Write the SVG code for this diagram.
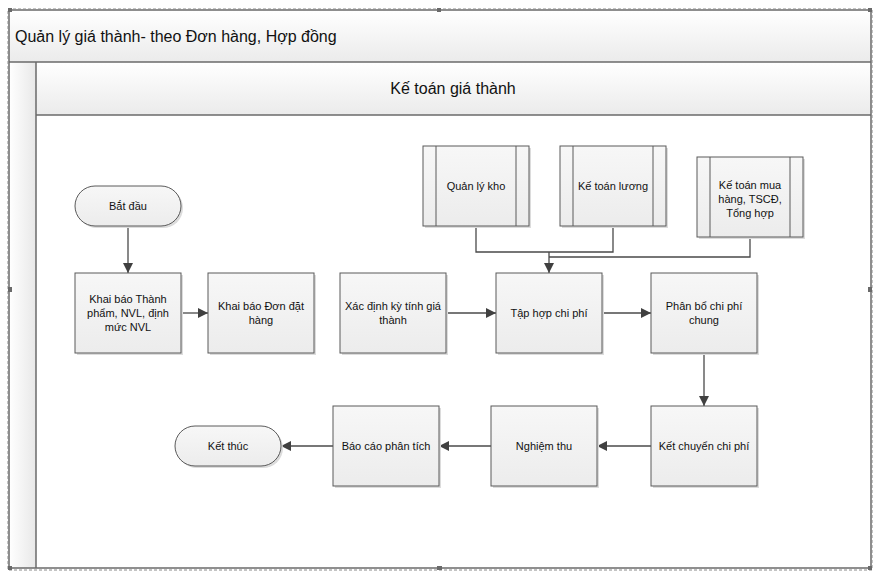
<svg xmlns="http://www.w3.org/2000/svg" width="878" height="576" viewBox="0 0 878 576">
<defs>
<linearGradient id="gBand" x1="0" y1="0" x2="0" y2="1"><stop offset="0" stop-color="#ffffff"/><stop offset="1" stop-color="#ebebeb"/></linearGradient>
<linearGradient id="gStrip" x1="0" y1="0" x2="1" y2="0"><stop offset="0" stop-color="#ffffff"/><stop offset="1" stop-color="#e8e8e8"/></linearGradient>
<linearGradient id="gNode" x1="0" y1="0" x2="0" y2="1"><stop offset="0" stop-color="#f7f7f7"/><stop offset="1" stop-color="#ececec"/></linearGradient>
<marker id="arr" viewBox="0 0 10 10" refX="10" refY="5" markerWidth="10" markerHeight="10" markerUnits="userSpaceOnUse" orient="auto"><path d="M0,0 L10,5 L0,10 z" fill="#404040"/></marker>
</defs>
<style>
.frame{fill:none;stroke:#6a6a6a;stroke-width:1.5}
.sel{fill:none;stroke:#8a8a8a;stroke-width:1;stroke-dasharray:3,2}
.node{fill:url(#gNode);stroke:#5a5a5a;stroke-width:1}
.shadow{fill:#dcdcdc}
.inner{stroke:#5a5a5a;stroke-width:1}
.conn{fill:none;stroke:#4a4a4a;stroke-width:1.3}
.t{font-family:"Liberation Sans",Arial,sans-serif;font-size:11px;fill:#111;text-anchor:middle}
.title{font-family:"Liberation Sans",Arial,sans-serif;font-size:16px;fill:#111}
.handle{fill:#6a6a6a}
</style>
<rect width="878" height="576" fill="#ffffff"/>
<g id="pool">
<rect x="9" y="10" width="862" height="52" fill="url(#gBand)"/>
<rect x="9" y="62" width="27" height="506" fill="url(#gStrip)"/>
<rect x="36" y="62" width="835" height="53" fill="url(#gBand)"/>
<rect x="9" y="10" width="862" height="558" class="frame"/>
<line x1="9" y1="62" x2="871" y2="62" class="frame"/>
<line x1="36" y1="115" x2="871" y2="115" class="frame"/>
<line x1="36" y1="62" x2="36" y2="568" class="frame"/>
<text x="15" y="42" class="title">Quản lý giá thành- theo Đơn hàng, Hợp đồng</text>
<text x="453" y="94" class="title" text-anchor="middle">Kế toán giá thành</text>
<rect x="8" y="9" width="864" height="561" class="sel"/>
<rect x="8" y="8" width="4" height="4" class="handle"/>
<rect x="868" y="8" width="4" height="4" class="handle"/>
<rect x="437" y="8" width="4" height="4" class="handle"/>
<rect x="8" y="287" width="4" height="5" class="handle"/>
<rect x="868" y="287" width="4" height="5" class="handle"/>
<rect x="437" y="566" width="5" height="4" class="handle"/>
<rect x="8" y="566" width="4" height="4" class="handle"/>
<rect x="868" y="566" width="4" height="4" class="handle"/>
</g>
<g id="connectors">
<line x1="128" y1="226" x2="128" y2="273" class="conn" marker-end="url(#arr)"/>
<line x1="181" y1="313" x2="208" y2="313" class="conn" marker-end="url(#arr)"/>
<line x1="446" y1="313" x2="496" y2="313" class="conn" marker-end="url(#arr)"/>
<line x1="602" y1="313" x2="651" y2="313" class="conn" marker-end="url(#arr)"/>
<polyline points="476,226 476,252 613,252 613,226" class="conn"/>
<polyline points="750,237 750,257 549,257" class="conn"/>
<line x1="549" y1="252" x2="549" y2="273" class="conn" marker-end="url(#arr)"/>
<line x1="704" y1="353" x2="704" y2="406" class="conn" marker-end="url(#arr)"/>
<line x1="651" y1="446" x2="597" y2="446" class="conn" marker-end="url(#arr)"/>
<line x1="491" y1="446" x2="439" y2="446" class="conn" marker-end="url(#arr)"/>
<line x1="333" y1="446" x2="281" y2="446" class="conn" marker-end="url(#arr)"/>
</g>
<g id="start">
<rect x="77" y="188" width="106" height="40" rx="20" class="shadow"/>
<rect x="75" y="186" width="106" height="40" rx="20" class="node"/>
<text x="128" y="210" class="t">Bắt đầu</text>
</g>
<g id="khaibao-tp">
<rect x="77" y="275" width="106" height="80" class="shadow"/>
<rect x="75" y="273" width="106" height="80" class="node"/>
<text x="128" y="303" class="t">Khai báo Thành</text>
<text x="128" y="317" class="t">phẩm, NVL, định</text>
<text x="128" y="331" class="t">mức NVL</text>
</g>
<g id="khaibao-ddh">
<rect x="210" y="275" width="106" height="80" class="shadow"/>
<rect x="208" y="273" width="106" height="80" class="node"/>
<text x="261" y="310" class="t">Khai báo Đơn đặt</text>
<text x="261" y="324" class="t">hàng</text>
</g>
<g id="xacdinh">
<rect x="342" y="275" width="106" height="80" class="shadow"/>
<rect x="340" y="273" width="106" height="80" class="node"/>
<text x="393" y="310" class="t">Xác định kỳ tính giá</text>
<text x="393" y="324" class="t">thành</text>
</g>
<g id="taphop">
<rect x="498" y="275" width="106" height="80" class="shadow"/>
<rect x="496" y="273" width="106" height="80" class="node"/>
<text x="549" y="317" class="t">Tập hợp chi phí</text>
</g>
<g id="phanbo">
<rect x="653" y="275" width="106" height="80" class="shadow"/>
<rect x="651" y="273" width="106" height="80" class="node"/>
<text x="704" y="310" class="t">Phân bổ chi phí</text>
<text x="704" y="324" class="t">chung</text>
</g>
<g id="quanlykho">
<rect x="425" y="148" width="106" height="80" class="shadow"/>
<rect x="423" y="146" width="106" height="80" class="node"/>
<line x1="436" y1="146" x2="436" y2="226" class="inner"/>
<line x1="516" y1="146" x2="516" y2="226" class="inner"/>
<text x="476" y="190" class="t">Quản lý kho</text>
</g>
<g id="ketoanluong">
<rect x="562" y="148" width="106" height="80" class="shadow"/>
<rect x="560" y="146" width="106" height="80" class="node"/>
<line x1="573" y1="146" x2="573" y2="226" class="inner"/>
<line x1="653" y1="146" x2="653" y2="226" class="inner"/>
<text x="613" y="190" class="t">Kế toán lương</text>
</g>
<g id="ketoanmuahang">
<rect x="699" y="159" width="106" height="80" class="shadow"/>
<rect x="697" y="157" width="106" height="80" class="node"/>
<line x1="710" y1="157" x2="710" y2="237" class="inner"/>
<line x1="790" y1="157" x2="790" y2="237" class="inner"/>
<text x="750" y="189" class="t">Kế toán mua</text>
<text x="750" y="203" class="t">hàng, TSCĐ,</text>
<text x="750" y="217" class="t">Tổng hợp</text>
</g>
<g id="ketchuyen">
<rect x="653" y="408" width="106" height="80" class="shadow"/>
<rect x="651" y="406" width="106" height="80" class="node"/>
<text x="704" y="450" class="t">Kết chuyển chi phí</text>
</g>
<g id="nghiemthu">
<rect x="493" y="408" width="106" height="80" class="shadow"/>
<rect x="491" y="406" width="106" height="80" class="node"/>
<text x="544" y="450" class="t">Nghiệm thu</text>
</g>
<g id="baocao">
<rect x="335" y="408" width="106" height="80" class="shadow"/>
<rect x="333" y="406" width="106" height="80" class="node"/>
<text x="386" y="450" class="t">Báo cáo phân tích</text>
</g>
<g id="end">
<rect x="177" y="428" width="106" height="40" rx="20" class="shadow"/>
<rect x="175" y="426" width="106" height="40" rx="20" class="node"/>
<text x="228" y="450" class="t">Kết thúc</text>
</g>
</svg>
